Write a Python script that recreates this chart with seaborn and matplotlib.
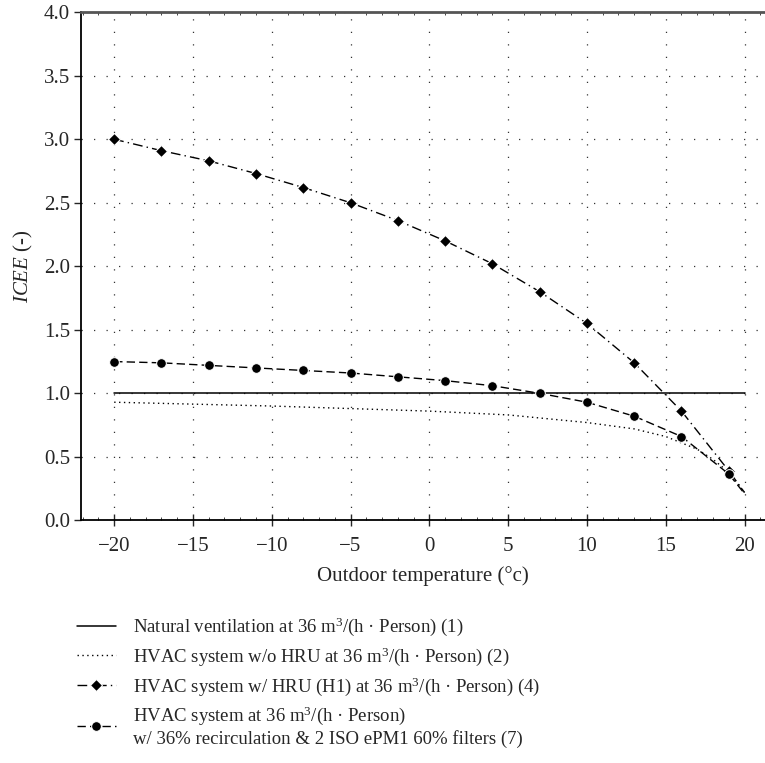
import numpy as np
import pandas as pd
import matplotlib
matplotlib.use("Agg")
import matplotlib.pyplot as plt
from matplotlib.ticker import MultipleLocator
import seaborn as sns

# ---- data ----
x_nat = [-20, 20]
y_nat = [1.0, 1.0]

x_nohru = [-20, -15, -10, -5, 0, 5, 10, 13, 15, 17, 18, 19, 20]
y_nohru = [0.93, 0.915, 0.90, 0.88, 0.86, 0.83, 0.77, 0.72, 0.66, 0.56, 0.48, 0.38, 0.22]

x_h1 = [-20, -17, -14, -11, -8, -5, -2, 1, 4, 7, 10, 13, 16, 19, 20]
y_h1 = [3.0, 2.91, 2.83, 2.73, 2.62, 2.50, 2.36, 2.20, 2.02, 1.80, 1.55, 1.24, 0.86, 0.39, 0.22]

x_rec = [-20, -17, -14, -11, -8, -5, -2, 1, 4, 7, 10, 13, 16, 19, 20]
y_rec = [1.25, 1.24, 1.22, 1.20, 1.18, 1.16, 1.13, 1.10, 1.06, 1.00, 0.93, 0.82, 0.66, 0.365, 0.21]

labels = [
    "Natural ventilation at 36 m$^3$/(h · Person) (1)",
    "HVAC system w/o HRU at 36 m$^3$/(h · Person) (2)",
    "HVAC system w/ HRU (H1) at 36 m$^3$/(h · Person) (4)",
    "HVAC system at 36 m$^3$/(h · Person)\nw/ 36% recirculation & 2 ISO ePM1 60% filters (7)",
]
x_ticks = [-20, -15, -10, -5, 0, 5, 10, 15, 20]
y_ticks = [0.0, 0.5, 1.0, 1.5, 2.0, 2.5, 3.0, 3.5, 4.0]

sns.set_style("ticks")
plt.rcParams["font.family"] = ["Liberation Serif", "DejaVu Serif"]
plt.rcParams["mathtext.fontset"] = "custom"
plt.rcParams["mathtext.rm"] = "Liberation Serif"
plt.rcParams["mathtext.it"] = "Liberation Serif:italic"
plt.rcParams["axes.unicode_minus"] = True

FS_TICK = 15
FS_LAB = 15
FS_LEG = 13.5
fig = plt.figure(figsize=(7.65, 7.63), dpi=100)
ax = fig.add_axes([0.106, 0.318, 0.894, 0.666])

sns.lineplot(x=x_nat, y=y_nat, ax=ax, color="black", lw=1.1, label=labels[0])
sns.lineplot(x=x_nohru, y=y_nohru, ax=ax, color="black", lw=1.0,
             linestyle=(0, (1, 2.5)), label=labels[1])
sns.lineplot(x=x_h1, y=y_h1, ax=ax, color="black", lw=1.0,
             linestyle=(0, (7, 3, 1, 3)), marker="D", markersize=6.5,
             markevery=list(range(len(x_h1) - 1)), label=labels[2])
sns.lineplot(x=x_rec, y=y_rec, ax=ax, color="black", lw=1.0,
             linestyle=(0, (6, 3)), marker="o", markersize=7,
             markevery=list(range(len(x_rec) - 1)), label=labels[3])

ax.set_xlim(-22.1, 21.3)
ax.set_ylim(0, 4.0)
ax.set_xticks(x_ticks)
ax.set_yticks(y_ticks)
ax.set_xticklabels([f"{t}".replace("-", "\u2212") for t in x_ticks], fontsize=FS_TICK)
ax.set_yticklabels([f"{t:.1f}" for t in y_ticks], fontsize=FS_TICK)
ax.xaxis.set_minor_locator(MultipleLocator(1))
ax.tick_params(axis="x", which="major", direction="inout", length=8, width=1, top=False, pad=8)
ax.tick_params(axis="x", which="minor", direction="in", length=2.5, width=0.6, top=True)
ax.tick_params(axis="y", which="major", direction="out", length=5, width=1, pad=3)

ax.grid(True, which="major", color="#333333", lw=0.9, linestyle=(0, (1, 9)))

for s in ["left", "bottom"]:
    ax.spines[s].set_color("black")
    ax.spines[s].set_linewidth(1.3)
ax.spines["top"].set_visible(True)
ax.spines["top"].set_color("#555555")
ax.spines["top"].set_linewidth(2.0)
ax.spines["right"].set_visible(False)

ax.set_xlabel("Outdoor temperature (°c)", fontsize=FS_LAB, labelpad=7)
ax.set_ylabel("$\\it{ICEE}$ (-)", fontsize=FS_LAB, labelpad=6)

leg = ax.get_legend()
handles, labs = ax.get_legend_handles_labels()
leg.remove()
fig.legend(handles, labs, loc="upper left", bbox_to_anchor=(0.100, 0.193),
           frameon=False, fontsize=FS_LEG, handlelength=2.1, handletextpad=0.9,
           labelspacing=0.38, borderpad=0, borderaxespad=0)

fig.savefig("out.png", dpi=100)
